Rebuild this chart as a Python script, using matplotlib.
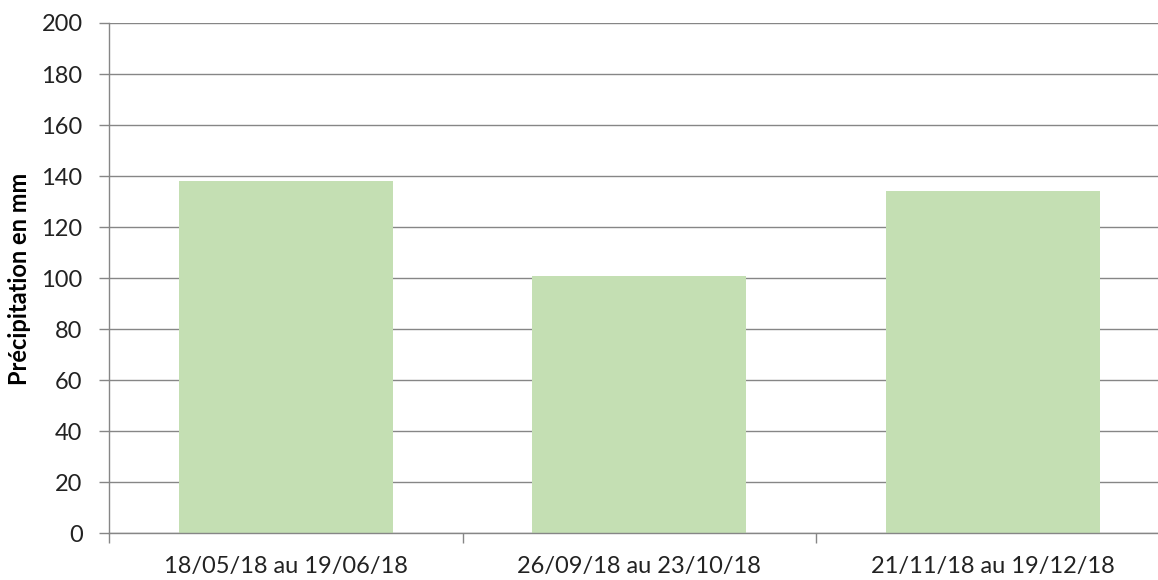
import matplotlib
matplotlib.use("Agg")
import matplotlib.pyplot as plt
import numpy as np

categories = ["18/05/18 au 19/06/18", "26/09/18 au 23/10/18", "21/11/18 au 19/12/18"]
values = [138, 101, 134]
yticks = [0, 20, 40, 60, 80, 100, 120, 140, 160, 180, 200]
ylabel = "Précipitation en mm"

plt.rcParams['font.family'] = ['Lato', 'DejaVu Sans']

fig = plt.figure(figsize=(11.58, 5.8), dpi=100)
ax = fig.add_axes([109/1158, 46.7/580, 1060.5/1158, 510.3/580])

x = np.arange(len(categories))
ax.bar(x, values, width=0.605, color="#C4DFB3", zorder=2)

ax.set_xlim(-0.5, len(categories) - 0.5)
ax.set_ylim(0, 200)
ax.set_yticks(yticks)
ax.set_yticklabels([str(t) for t in yticks], fontsize=17, color="#222222")

ax.set_xticks(np.arange(len(categories) + 1) - 0.5)
ax.set_xticklabels([])
ax.set_xticks(x, minor=True)
ax.set_xticklabels(categories, minor=True, fontsize=17, color="#222222")
ax.tick_params(axis='x', which='major', length=7, color="#868686", width=1)
ax.tick_params(axis='x', which='minor', length=0, pad=16)
ax.tick_params(axis='y', length=7, color="#868686", width=1, pad=12)

ax.grid(axis='y', color="#868686", linewidth=1, zorder=0)
for s in ['top', 'right']:
    ax.spines[s].set_visible(False)
for s in ['left', 'bottom']:
    ax.spines[s].set_color("#868686")
    ax.spines[s].set_linewidth(1)

fig.text(20/1158, 301/580, ylabel, rotation=90, fontsize=17,
         fontweight='bold', va='center', ha='center', color="#000000")

fig.savefig("out.png", dpi=100)
